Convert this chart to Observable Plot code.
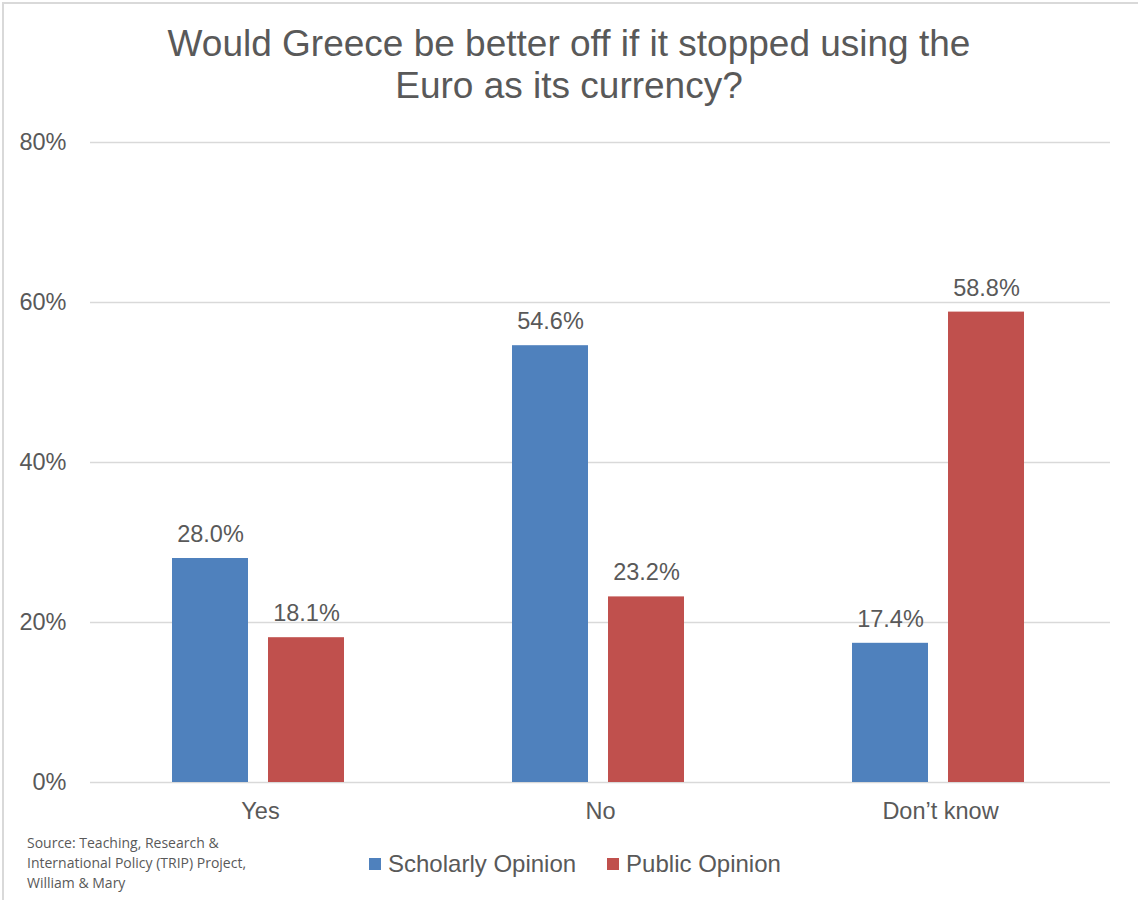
<!DOCTYPE html>
<html>
<head>
<meta charset="utf-8">
<script src="https://cdn.jsdelivr.net/npm/d3@7"></script>
<script src="https://cdn.jsdelivr.net/npm/@observablehq/plot@0.6"></script>
<style>
  body { margin: 0; background: #fff; }
  #wrap { position: relative; width: 1138px; height: 900px; overflow: hidden; background: #fff; }
  #frame { position: absolute; left: 2px; top: 2px; width: 1200px; height: 1000px; border-left: 2px solid #d9d9d9; border-top: 2px solid #d9d9d9; }
  #title { position: absolute; top: 23px; left: 0; width: 1138px; text-align: center; font-family: "Liberation Sans", Arial, sans-serif; font-size: 37px; line-height: 42px; color: #595959; }
  #chart { position: absolute; top: 120px; left: 0; }
  #source { position: absolute; left: 27px; top: 833px; font-family: "Open Sans", "Noto Sans", sans-serif; font-size: 14px; line-height: 20px; color: #595959; }
  #legend { position: absolute; top: 850px; left: 369px; font-family: "Liberation Sans", Arial, sans-serif; font-size: 24px; color: #595959; display: flex; align-items: center; }
  .item { display: flex; align-items: center; margin-right: 31px; }
  .sw { width: 12px; height: 12px; margin-right: 7px; }
</style>
</head>
<body>
<div id="wrap">
  <div id="frame"></div>
  <div id="title">Would Greece be better off if it stopped using the<br>Euro as its currency?</div>
  <div id="chart"></div>
  <div id="source">Source: Teaching, Research &amp;<br>International Policy (TRIP) Project,<br>William &amp; Mary</div>
  <div id="legend"></div>
</div>
<script>
const categories = ["Yes", "No", "Don\u2019t know"];
const series = ["Scholarly Opinion", "Public Opinion"];
const scholarly = [28.0, 54.6, 17.4];
const publicOpinion = [18.1, 23.2, 58.8];
const yTicks = [0, 20, 40, 60, 80];
const colors = ["#4F81BD", "#C0504D"];

const data = categories.flatMap((c, i) => [
  {category: c, series: series[0], value: scholarly[i]},
  {category: c, series: series[1], value: publicOpinion[i]}
]);

const font = '"Liberation Sans", Arial, sans-serif';

const chart = Plot.plot({
  width: 1138,
  height: 702,
  marginTop: 22,
  marginBottom: 40,
  marginLeft: 90,
  marginRight: 28,
  style: {fontFamily: font, fontSize: "23.5px", color: "#595959", background: "transparent", overflow: "visible"},
  fx: {domain: categories, padding: 0, label: null},
  x: {domain: series, paddingInner: 0.206, paddingOuter: 0.856, align: 0.49, axis: null},
  y: {domain: [0, 80], label: null},
  color: {domain: series, range: colors},
  marks: [
    Plot.ruleY(yTicks, {stroke: "#d9d9d9", strokeWidth: 1.5}),
    Plot.axisY({ticks: yTicks, tickSize: 0, tickPadding: 24, tickFormat: d => d + "%", label: null, fontSize: 23.5, fill: "#595959"}),
    Plot.axisFx({anchor: "bottom", tickSize: 0, tickPadding: 20, label: null, fontSize: 23.5, fill: "#595959"}),
    Plot.barY(data, {fx: "category", x: "series", y: "value", fill: "series"}),
    Plot.text(data, {fx: "category", x: "series", y: "value", text: d => d.value.toFixed(1) + "%", dy: -24, fontSize: 23.5, fill: "#595959"})
  ]
});
document.getElementById("chart").appendChild(chart);

const legend = document.getElementById("legend");
series.forEach((s, i) => {
  const it = document.createElement("div");
  it.className = "item";
  const sw = document.createElement("div");
  sw.className = "sw";
  sw.style.background = colors[i];
  const tx = document.createElement("span");
  tx.textContent = s;
  it.appendChild(sw);
  it.appendChild(tx);
  legend.appendChild(it);
});
</script>
</body>
</html>
